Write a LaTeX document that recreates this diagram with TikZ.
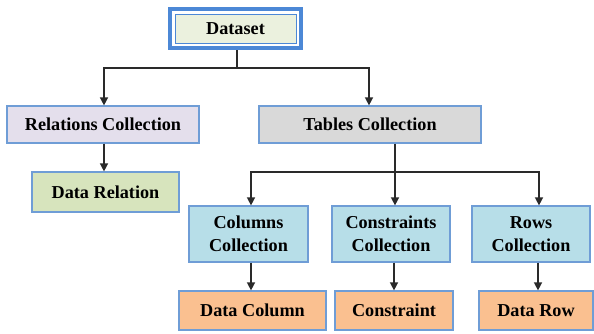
\documentclass[tikz,border=0pt]{standalone}
\usepackage{fontspec}
\setmainfont{Liberation Serif}
\usetikzlibrary{arrows.meta}
\definecolor{bord}{HTML}{6F9DD6}
\definecolor{dsbord}{HTML}{4C88D6}
\definecolor{dsfill}{HTML}{EBF1DE}
\definecolor{relfill}{HTML}{E4DFEC}
\definecolor{drfill}{HTML}{D7E4BD}
\definecolor{tabfill}{HTML}{D9D9D9}
\definecolor{colfill}{HTML}{B7DEE8}
\definecolor{orfill}{HTML}{FAC090}
\definecolor{linec}{HTML}{2A2A2A}
\tikzset{
  box/.style={draw=bord, line width=1.2pt, inner sep=0pt, font=\fontsize{18.2}{23.5}\selectfont\bfseries, align=center, text=black},
  conn/.style={draw=linec, line width=1.4pt},
  arr/.style={conn, -{Triangle[width=8pt,length=8pt]}}
}
\begin{document}
\begin{tikzpicture}[x=1pt,y=-1pt]
\useasboundingbox (0,0) rectangle (594,333);
\clip (0,0) rectangle (594,333);
% Dataset
\node[box, draw=dsbord, line width=4pt, fill=white, minimum width=131pt, minimum height=39pt] (ds) at (235.5,28.5) {};
\node[box, draw=dsbord, line width=1pt, fill=dsfill, minimum width=121pt, minimum height=29pt] (dsin) at (235.5,28.5) {Dataset};
% level 1
\node[box, fill=relfill, minimum width=192pt, minimum height=37pt] (rel) at (103,124.5) {Relations Collection};
\node[box, fill=tabfill, minimum width=222pt, minimum height=37pt] (tab) at (370,124.5) {Tables Collection};
\node[box, fill=drfill, minimum width=147pt, minimum height=40pt] (drel) at (105.5,192) {Data Relation};
% level 2
\node[box, fill=colfill, minimum width=119pt, minimum height=56pt] (col) at (248.5,234) {Columns\\Collection};
\node[box, fill=colfill, minimum width=118pt, minimum height=56pt] (con) at (391,234) {Constraints\\Collection};
\node[box, fill=colfill, minimum width=118pt, minimum height=56pt] (row) at (531,234) {Rows\\Collection};
% level 3
\node[box, fill=orfill, minimum width=147pt, minimum height=39pt] (dcol) at (252.5,310.5) {Data Column};
\node[box, fill=orfill, minimum width=118pt, minimum height=39pt] (cons) at (394,310.5) {Constraint};
\node[box, fill=orfill, minimum width=114pt, minimum height=39pt] (drow) at (536,310.5) {Data Row};
% connectors
\coordinate (j1) at (237,68);
\coordinate (j2) at (395,172);
\draw[conn] (ds.south -| j1) -- (j1);
\draw[arr] (j1) -- (104,68) -- (rel.north -| 104,0);
\draw[arr] (j1) -- (369,68) -- (tab.north -| 369,0);
\draw[arr] (rel.south -| 104,0) -- (drel.north -| 104,0);
\draw[conn] (tab.south -| j2) -- (j2);
\draw[arr] (j2) -- (251,172) -- (col.north -| 251,0);
\draw[arr] (j2) -- (con.north -| j2);
\draw[arr] (j2) -- (539,172) -- (row.north -| 539,0);
\draw[arr] (col.south -| 251,0) -- (dcol.north -| 251,0);
\draw[arr] (con.south -| 394,0) -- (cons.north -| 394,0);
\draw[arr] (row.south -| 538,0) -- (drow.north -| 538,0);
\end{tikzpicture}
\end{document}
